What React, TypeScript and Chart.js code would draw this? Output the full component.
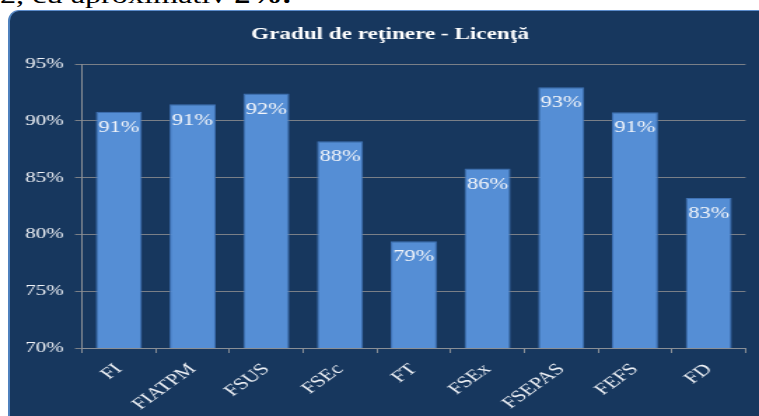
import React, { useEffect, useRef } from "react";
import { Chart, registerables } from "chart.js";

Chart.register(...registerables);

const categories = ["FI", "FIATPM", "FSUS", "FSEc", "FT", "FSEx", "FSEPAS", "FEFS", "FD"];
const retention = [90.8, 91.45, 92.4, 88.2, 79.4, 85.8, 92.95, 90.75, 83.2];
const yMin = 70;
const yMax = 95;
const yStep = 5;
const titleText = "Gradul de reţinere - Licenţă";

const FONT = "'Liberation Serif', 'Times New Roman', serif";
const W = 759;
const H = 416;
const CW = 542; // internal canvas width, stretched horizontally to W
const SX = W / CW;

export default function App() {
  const ref = useRef<HTMLCanvasElement | null>(null);

  useEffect(() => {
    const canvas = ref.current;
    if (!canvas) return;

    const labelPlugin = {
      id: "barLabels",
      afterDatasetsDraw(chart: any) {
        const ctx = chart.ctx;
        const meta = chart.getDatasetMeta(0);
        ctx.save();
        ctx.font = `16px ${FONT}`;
        ctx.fillStyle = "#f4f6fa";
        ctx.textAlign = "center";
        ctx.textBaseline = "top";
        meta.data.forEach((bar: any, i: number) => {
          ctx.fillText(Math.round(retention[i]) + "%", bar.x, bar.y + 8);
        });
        ctx.restore();
      },
    };

    const titlePlugin = {
      id: "customTitle",
      afterDraw(chart: any) {
        const ctx = chart.ctx;
        ctx.save();
        ctx.font = `bold 16.5px ${FONT}`;
        ctx.fillStyle = "#ffffff";
        ctx.textAlign = "center";
        ctx.textBaseline = "alphabetic";
        ctx.fillText(titleText, 390 / SX, 39);
        ctx.restore();
      },
    };

    const chart = new Chart(canvas, {
      type: "bar",
      data: {
        labels: categories,
        datasets: [
          {
            data: retention,
            backgroundColor: "#558ed5",
            borderColor: "#3f72b5",
            borderWidth: 1,
            barPercentage: 0.625,
            categoryPercentage: 1,
          },
        ],
      },
      options: {
        animation: false,
        responsive: false,
        devicePixelRatio: 1,
        layout: { padding: { left: 0, right: 9.6, top: 64, bottom: 0 } },
        plugins: {
          legend: { display: false },
          tooltip: { enabled: false },
          title: { display: false },
        },
        scales: {
          x: {
            grid: {
              display: true,
              drawOnChartArea: false,
              drawTicks: true,
              tickLength: 5,
              color: "#8a8f96",
              offset: true,
            },
            border: { display: true, color: "#8a8f96" },
            ticks: {
              color: "#eef1f6",
              font: { family: FONT, size: 16 },
              minRotation: 45,
              maxRotation: 45,
              padding: 7,
              autoSkip: false,
            },
            afterFit(scale: any) {
              scale.height = 68;
            },
          },
          y: {
            min: yMin,
            max: yMax,
            grid: {
              color: "#7a7f87",
              drawTicks: true,
              tickLength: 5,
            },
            border: { display: true, color: "#8a8f96" },
            ticks: {
              stepSize: yStep,
              color: "#f2f4f8",
              font: { family: FONT, size: 15 },
              padding: 8,
              callback: (v: any) => v + "%",
            },
            afterFit(scale: any) {
              scale.width = 82 / SX;
            },
          },
        },
      },
      plugins: [labelPlugin, titlePlugin],
    });

    return () => {
      chart.destroy();
    };
  }, []);

  return (
    <div
      style={{
        position: "fixed",
        left: 0,
        top: 0,
        width: W,
        height: H,
        overflow: "hidden",
        background: "#ffffff",
      }}
    >
      <div
        style={{
          position: "absolute",
          left: 0,
          top: -16,
          fontFamily: FONT,
          fontSize: 23,
          lineHeight: "23px",
          color: "#000",
          whiteSpace: "nowrap",
          transform: `scaleX(${SX})`,
          transformOrigin: "0 0",
        }}
      >
        2, cu aproximativ <b>2%.</b>
      </div>
      <div
        style={{
          position: "absolute",
          left: 8,
          top: 10,
          width: 770,
          height: 430,
          boxSizing: "border-box",
          background: "#17375e",
          borderRadius: 11,
          borderLeft: "2px solid #4f81bd",
          borderTop: "1px solid #5b8ccc",
        }}
      />
      <div
        style={{
          position: "absolute",
          left: 0,
          top: 0,
          width: CW,
          height: H,
          transform: `scaleX(${SX})`,
          transformOrigin: "0 0",
        }}
      >
        <canvas ref={ref} width={CW} height={H} style={{ display: "block" }} />
      </div>
    </div>
  );
}
